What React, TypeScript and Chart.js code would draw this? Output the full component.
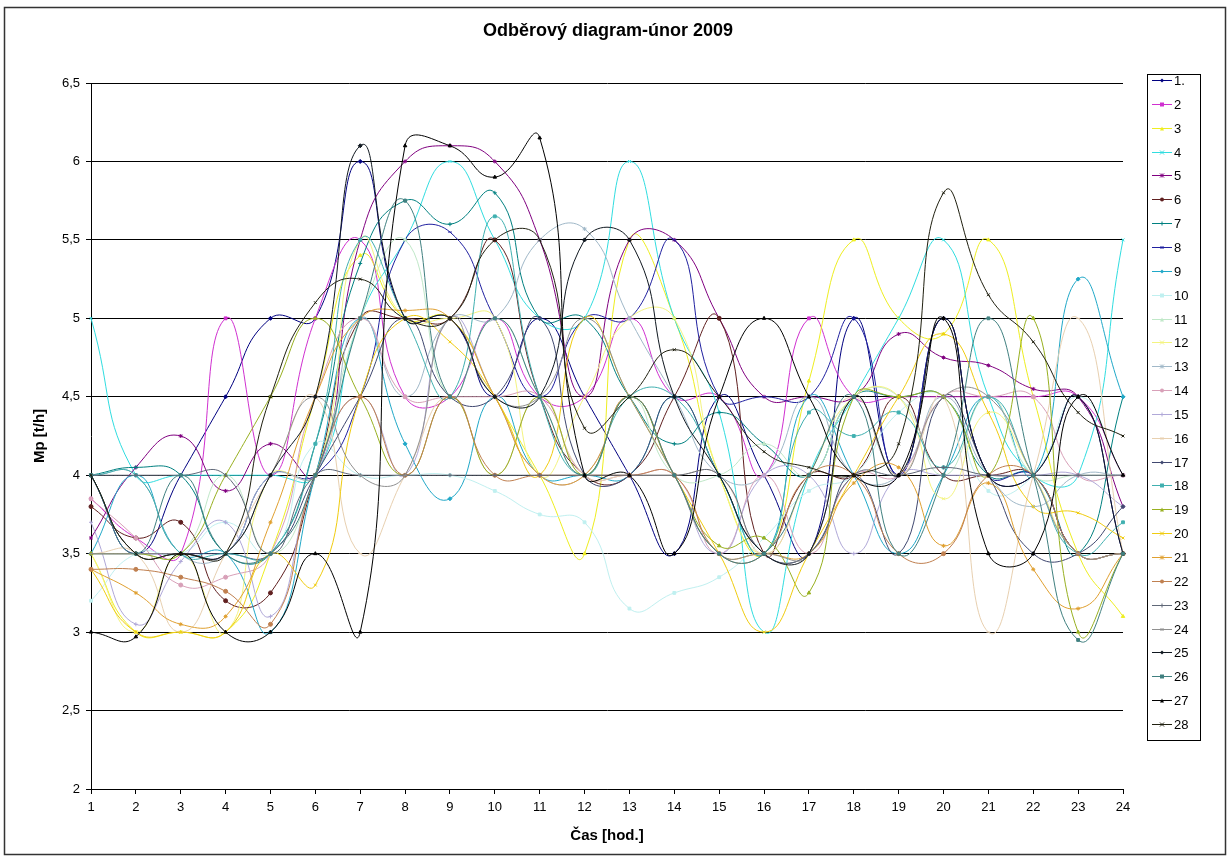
import React, { useEffect, useRef } from 'react';
import { Chart, registerables } from 'chart.js';
Chart.register(...registerables);

const hours = ['1','2','3','4','5','6','7','8','9','10','11','12','13','14','15','16','17','18','19','20','21','22','23','24'];
const yTicks = [2, 2.5, 3, 3.5, 4, 4.5, 5, 5.5, 6, 6.5];

const s1 = [4.0, 3.5, 4.0, 4.5, 5.0, 5.0, 6.0, 5.0, 5.0, 4.5, 5.0, 4.5, 4.0, 3.5, 4.5, 4.0, 3.5, 5.0, 4.0, 5.0, 4.0, 4.0, 4.5, 3.5];
const s2 = [3.85, 3.6, 3.5, 5.0, 4.0, 5.0, 5.5, 4.5, 4.5, 5.0, 4.5, 4.5, 5.0, 4.5, 4.5, 4.0, 5.0, 4.5, 4.5, 4.5, 4.5, 4.5, 4.5, 4.0];
const s3 = [3.5, 3.0, 3.0, 3.0, 3.5, 4.5, 5.4, 5.0, 5.0, 4.5, 4.0, 3.5, 5.5, 5.0, 4.0, 3.5, 4.6, 5.5, 5.0, 4.9, 5.5, 4.5, 3.5, 3.1];
const s4 = [5.0, 4.0, 4.0, 4.0, 4.0, 4.0, 5.0, 5.5, 6.0, 5.5, 5.0, 5.0, 6.0, 5.0, 4.4, 3.0, 4.0, 4.5, 5.0, 5.5, 4.5, 4.0, 4.0, 5.5];
const s5 = [3.6, 4.05, 4.25, 3.9, 4.2, 4.0, 5.5, 6.0, 6.1, 6.0, 5.5, 4.5, 5.5, 5.5, 5.0, 4.5, 4.5, 4.5, 4.9, 4.75, 4.7, 4.55, 4.5, 3.8];
const s6 = [3.8, 3.6, 3.7, 3.2, 3.25, 4.0, 5.0, 5.0, 5.0, 5.5, 4.5, 4.0, 4.0, 4.5, 5.0, 3.5, 4.0, 4.0, 4.5, 4.0, 4.0, 4.0, 3.5, 3.5];
const s7 = [4.0, 4.05, 4.0, 3.5, 3.5, 4.2, 5.35, 5.75, 5.6, 5.8, 5.0, 5.0, 4.5, 4.2, 4.4, 4.2, 4.0, 4.5, 4.5, 4.5, 4.0, 4.0, 3.5, 4.5];
const s8 = [3.5, 3.5, 3.5, 3.5, 4.0, 4.0, 4.5, 5.5, 5.55, 5.0, 4.5, 5.0, 5.0, 5.5, 4.5, 4.5, 4.5, 5.0, 4.0, 5.0, 4.0, 4.0, 3.5, 3.5];
const s9 = [3.5, 4.0, 3.5, 3.5, 3.0, 4.0, 5.0, 4.2, 3.85, 4.5, 4.0, 4.0, 4.0, 4.5, 4.0, 3.5, 4.5, 4.0, 3.5, 4.0, 4.5, 4.0, 5.25, 4.5];
const s10 = [3.2, 3.5, 3.5, 3.7, 3.5, 4.2, 4.0, 4.0, 4.0, 3.9, 3.75, 3.7, 3.15, 3.25, 3.35, 3.6, 3.9, 4.0, 4.4, 4.5, 3.9, 4.0, 4.5, 4.0];
const s11 = [3.5, 3.5, 3.5, 4.0, 3.5, 4.0, 5.0, 5.5, 4.5, 5.0, 4.5, 4.0, 4.5, 4.0, 4.0, 4.2, 4.0, 4.5, 4.5, 4.0, 4.5, 4.0, 4.0, 4.0];
const s12 = [3.5, 3.0, 3.5, 3.0, 4.0, 4.0, 5.5, 5.0, 5.0, 5.0, 4.0, 4.5, 5.0, 5.0, 4.0, 3.5, 4.0, 4.5, 4.5, 3.85, 4.4, 4.0, 3.5, 3.5];
const s13 = [4.0, 4.0, 3.5, 3.5, 4.0, 4.0, 5.0, 4.5, 5.0, 5.0, 5.5, 5.57, 5.0, 4.5, 4.0, 4.0, 4.5, 4.0, 4.0, 4.5, 4.0, 3.8, 4.0, 4.0];
const s14 = [3.85, 3.6, 3.3, 3.35, 3.5, 4.5, 5.0, 4.5, 4.5, 4.5, 4.5, 4.0, 4.0, 4.0, 3.5, 4.0, 3.5, 4.0, 4.0, 4.5, 4.5, 4.5, 4.0, 4.0];
const s15 = [3.7, 3.05, 3.45, 3.7, 3.1, 4.0, 4.5, 4.0, 5.0, 4.5, 4.0, 4.0, 4.5, 4.0, 3.5, 4.0, 4.0, 3.5, 4.0, 4.0, 4.0, 4.0, 4.0, 3.8];
const s16 = [3.5, 3.5, 3.0, 3.5, 4.0, 4.5, 3.5, 4.0, 4.5, 4.0, 4.5, 4.0, 4.0, 4.0, 4.0, 3.5, 4.0, 4.5, 4.0, 4.5, 3.0, 4.0, 5.0, 3.5];
const s17 = [3.5, 3.5, 3.5, 3.5, 3.5, 4.0, 4.5, 5.0, 4.5, 4.5, 5.0, 4.0, 4.0, 4.5, 4.0, 3.5, 3.5, 4.0, 3.5, 4.5, 4.0, 3.5, 3.5, 3.8];
const s18 = [4.0, 4.0, 3.5, 3.5, 3.5, 4.2, 5.5, 5.0, 4.5, 5.65, 4.5, 4.0, 4.5, 4.5, 4.0, 3.5, 4.4, 4.25, 4.4, 4.05, 4.5, 4.0, 3.5, 3.7];
const s19 = [3.5, 3.5, 3.5, 4.0, 4.5, 5.0, 4.5, 4.0, 4.5, 4.0, 4.5, 4.0, 4.5, 4.0, 3.55, 3.6, 3.25, 4.5, 4.5, 4.5, 4.0, 5.0, 3.0, 3.5];
const s20 = [3.4, 3.0, 3.0, 3.0, 3.5, 3.3, 4.5, 5.0, 4.85, 4.5, 4.0, 5.0, 4.5, 4.0, 3.5, 3.0, 3.5, 4.0, 4.5, 4.9, 4.4, 3.8, 3.76, 3.6];
const s21 = [3.4, 3.25, 3.05, 3.1, 3.7, 4.5, 5.0, 5.05, 5.0, 4.5, 4.0, 4.0, 4.5, 4.0, 3.5, 3.5, 3.5, 3.95, 4.05, 3.55, 3.95, 3.4, 3.15, 3.5];
const s22 = [3.4, 3.4, 3.35, 3.26, 3.05, 4.0, 4.5, 4.0, 4.5, 4.0, 4.0, 4.0, 4.0, 4.0, 3.5, 3.5, 4.0, 4.0, 3.5, 3.5, 4.0, 4.0, 3.5, 3.5];
const s23 = [4.0, 4.0, 4.0, 4.0, 3.5, 4.0, 4.0, 4.0, 4.0, 4.0, 4.0, 4.0, 4.0, 4.0, 4.0, 3.5, 3.5, 4.0, 4.0, 4.05, 4.0, 4.0, 4.0, 4.0];
const s24 = [3.5, 3.5, 3.5, 3.5, 4.0, 4.5, 4.0, 4.0, 5.0, 4.5, 4.5, 5.0, 4.5, 4.0, 3.5, 3.5, 3.5, 4.5, 4.0, 4.5, 4.5, 4.0, 3.5, 3.5];
const s25 = [4.0, 3.5, 3.5, 3.5, 4.0, 4.5, 6.1, 5.0, 5.0, 4.5, 4.5, 5.5, 5.5, 4.5, 4.0, 3.5, 3.5, 4.5, 4.0, 5.0, 4.0, 4.0, 4.5, 3.5];
const s26 = [4.0, 3.5, 4.0, 3.5, 3.5, 4.0, 5.0, 5.75, 4.5, 5.0, 4.5, 4.0, 4.5, 4.0, 3.5, 3.5, 4.0, 4.5, 3.5, 4.0, 5.0, 4.0, 2.95, 3.5];
const s27 = [3.0, 2.97, 3.5, 3.0, 3.0, 3.5, 3.0, 6.1, 6.1, 5.9, 6.15, 4.0, 4.0, 3.5, 4.5, 5.0, 4.5, 4.0, 4.0, 5.0, 3.5, 3.5, 4.5, 4.0];
const s28 = [4.0, 3.5, 3.5, 3.5, 4.5, 5.1, 5.25, 5.0, 5.0, 5.5, 5.5, 4.3, 4.5, 4.8, 4.5, 4.15, 4.05, 4.0, 4.2, 5.8, 5.15, 4.85, 4.4, 4.25];

const seriesNames = ['1.','2','3','4','5','6','7','8','9','10','11','12','13','14','15','16','17','18','19','20','21','22','23','24','25','26','27','28'];
const seriesColors = [
  '#000080', '#d030d0', '#eeee20', '#30dde0', '#800080', '#602020', '#008080', '#2020a0',
  '#20a8c8', '#c0f0f0', '#c0e8c8', '#f4f480', '#a0b8c8', '#d8a0b8', '#b0a8d8', '#e8d0b0',
  '#404870', '#40b0b0', '#98b020', '#f0cc10', '#e0a030', '#c08050', '#606878', '#909090',
  '#101820', '#408080', '#000000', '#202010'
];
const markerCycle = ['rectRot', 'rect', 'triangle', 'crossRot', 'star', 'circle', 'cross', 'line'];

const FONT = 'Liberation Sans, Arial, sans-serif';

function drawMarker(ctx: CanvasRenderingContext2D, style: string, x: number, y: number, r: number, color: string) {
  ctx.save();
  ctx.fillStyle = color;
  ctx.strokeStyle = color;
  ctx.lineWidth = 1;
  ctx.beginPath();
  switch (style) {
    case 'rectRot':
      ctx.moveTo(x, y - r); ctx.lineTo(x + r, y); ctx.lineTo(x, y + r); ctx.lineTo(x - r, y); ctx.closePath(); ctx.fill(); break;
    case 'rect':
      ctx.rect(x - r, y - r, 2 * r, 2 * r); ctx.fill(); break;
    case 'triangle':
      ctx.moveTo(x, y - r); ctx.lineTo(x + r, y + r); ctx.lineTo(x - r, y + r); ctx.closePath(); ctx.fill(); break;
    case 'crossRot':
      ctx.moveTo(x - r, y - r); ctx.lineTo(x + r, y + r); ctx.moveTo(x + r, y - r); ctx.lineTo(x - r, y + r); ctx.stroke(); break;
    case 'star':
      ctx.moveTo(x - r, y - r); ctx.lineTo(x + r, y + r); ctx.moveTo(x + r, y - r); ctx.lineTo(x - r, y + r);
      ctx.moveTo(x, y - r); ctx.lineTo(x, y + r); ctx.stroke(); break;
    case 'circle':
      ctx.arc(x, y, r, 0, Math.PI * 2); ctx.fill(); break;
    case 'cross':
      ctx.moveTo(x - r, y); ctx.lineTo(x + r, y); ctx.moveTo(x, y - r); ctx.lineTo(x, y + r); ctx.stroke(); break;
    default:
      ctx.lineWidth = 2; ctx.moveTo(x - r, y); ctx.lineTo(x + r, y); ctx.stroke(); break;
  }
  ctx.restore();
}

const framePlugin = {
  id: 'framePlugin',
  beforeDraw(chart: any) {
    const ctx = chart.ctx as CanvasRenderingContext2D;
    ctx.save();
    ctx.fillStyle = '#ffffff';
    ctx.fillRect(0, 0, chart.width, chart.height);
    ctx.strokeStyle = '#333333';
    ctx.lineWidth = 1.5;
    ctx.strokeRect(4.5, 7.5, 1221, 847);
    ctx.restore();
  },
  afterDraw(chart: any) {
    const ctx = chart.ctx as CanvasRenderingContext2D;
    const area = chart.chartArea;
    ctx.save();
    ctx.fillStyle = '#000';
    ctx.textAlign = 'center';
    ctx.textBaseline = 'middle';
    ctx.font = `bold 18px ${FONT}`;
    ctx.fillText('Odběrový diagram-únor 2009', 608, 31);
    ctx.font = `bold 15px ${FONT}`;
    ctx.fillText('Čas [hod.]', (area.left + area.right) / 2, 836);
    ctx.save();
    ctx.translate(40, (area.top + area.bottom) / 2);
    ctx.rotate(-Math.PI / 2);
    ctx.fillText('Mp [t/h]', 0, 0);
    ctx.restore();

    // legend
    ctx.strokeStyle = '#000';
    ctx.lineWidth = 1;
    ctx.strokeRect(1147.5, 74.5, 53, 666);
    ctx.font = `13px ${FONT}`;
    ctx.textAlign = 'left';
    for (let i = 0; i < seriesNames.length; i++) {
      const y = Math.round(80 + i * 23.85) + 0.5;
      ctx.strokeStyle = seriesColors[i];
      ctx.lineWidth = 1;
      ctx.beginPath();
      ctx.moveTo(1152, y);
      ctx.lineTo(1172, y);
      ctx.stroke();
      drawMarker(ctx, markerCycle[i % markerCycle.length], 1162, y, 2, seriesColors[i]);
      ctx.fillStyle = '#000';
      ctx.fillText(seriesNames[i], 1174, y + 1);
    }
    ctx.restore();
  }
};

export default function App() {
  const ref = useRef<HTMLCanvasElement>(null);
  useEffect(() => {
    const allSeries = [s1, s2, s3, s4, s5, s6, s7, s8, s9, s10, s11, s12, s13, s14, s15, s16, s17, s18, s19, s20, s21, s22, s23, s24, s25, s26, s27, s28];
    const chart = new Chart(ref.current as HTMLCanvasElement, {
      type: 'line',
      data: {
        labels: hours,
        datasets: allSeries.map((d, i) => ({
          label: seriesNames[i],
          data: d,
          borderColor: seriesColors[i],
          backgroundColor: seriesColors[i],
          pointBorderColor: seriesColors[i],
          pointBackgroundColor: seriesColors[i],
          borderWidth: 1,
          tension: 0.5,
          pointStyle: markerCycle[i % markerCycle.length] as any,
          pointRadius: 2,
          pointBorderWidth: 1,
          fill: false,
          order: 27 - i,
        })),
      },
      options: {
        responsive: false,
        devicePixelRatio: 1,
        animation: false,
        events: [],
        layout: { padding: { left: 0, top: 83, right: 107, bottom: 32 } },
        plugins: {
          legend: { display: false },
          title: { display: false },
          tooltip: { enabled: false },
        },
        scales: {
          x: {
            type: 'category',
            offset: false,
            grid: { display: true, drawOnChartArea: false, drawTicks: true, tickLength: 5, color: '#000' },
            border: { display: true, color: '#000', width: 1 },
            ticks: { color: '#000', font: { family: FONT, size: 13 }, padding: 6, maxRotation: 0, autoSkip: false },
            afterFit: (s: any) => { s.height = 40; },
          },
          y: {
            type: 'linear',
            min: yTicks[0],
            max: yTicks[yTicks.length - 1],
            afterBuildTicks: (s: any) => { s.ticks = yTicks.map((v) => ({ value: v })); },
            ticks: {
              color: '#000',
              font: { family: FONT, size: 13 },
              padding: 6,
              callback: (v: any) => String(v).replace('.', ','),
            },
            grid: { color: '#000', lineWidth: 1, tickLength: 5 },
            border: { display: true, color: '#000', width: 1 },
            afterFit: (s: any) => { s.width = 91; },
          },
        },
      },
      plugins: [framePlugin],
    });
    return () => chart.destroy();
  }, []);
  return (
    <div style={{ position: 'absolute', left: 0, top: 0, width: 1230, height: 861, background: '#fff' }}>
      <canvas ref={ref} width={1230} height={861} style={{ display: 'block', width: 1230, height: 861 }} />
    </div>
  );
}
